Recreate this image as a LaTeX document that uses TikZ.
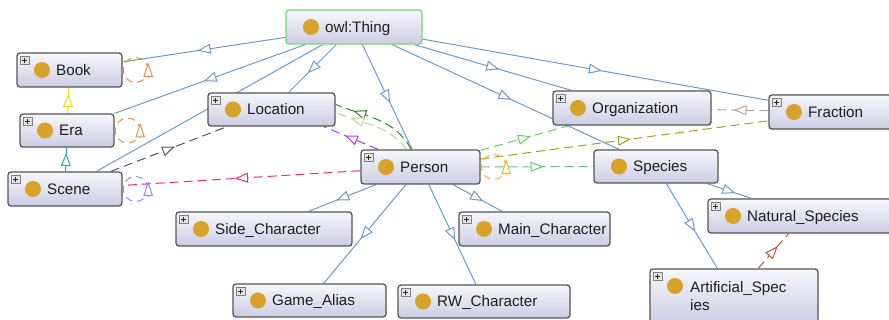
\documentclass[tikz,border=0pt]{standalone}
\usepackage{fontspec}
\setmainfont{Liberation Sans}
\usetikzlibrary{arrows.meta,decorations.markings}
\pgfdeclarelayer{edges}
\pgfsetlayers{edges,main}
\definecolor{edgeblue}{RGB}{108,155,200}
\definecolor{boxborder}{RGB}{85,85,85}
\definecolor{boxtop}{RGB}{247,247,252}
\definecolor{boxbot}{RGB}{204,204,228}
\definecolor{thinggreen}{RGB}{110,220,110}
\definecolor{dotgold}{RGB}{214,162,42}
\definecolor{txt}{RGB}{30,30,30}
\definecolor{yellowc}{RGB}{255,215,0}
\definecolor{tealc}{RGB}{30,178,170}
\definecolor{orangec}{RGB}{230,145,80}
\definecolor{orange2c}{RGB}{255,165,50}
\definecolor{lavc}{RGB}{140,140,255}
\definecolor{greyc}{RGB}{85,85,85}
\definecolor{pinkc}{RGB}{240,40,120}
\definecolor{purplec}{RGB}{170,60,230}
\definecolor{dgreenc}{RGB}{45,135,35}
\definecolor{tanc}{RGB}{205,205,150}
\definecolor{lgreenc}{RGB}{100,210,90}
\definecolor{olivec}{RGB}{160,160,30}
\definecolor{sgreenc}{RGB}{100,200,130}
\definecolor{lgreyc}{RGB}{170,170,170}
\definecolor{brownc}{RGB}{195,85,45}
\tikzset{
  cbox/.style={draw=boxborder, line width=1.3pt, rounded corners=3pt,
    top color=boxtop, bottom color=boxbot, inner sep=0pt},
  thingbox/.style={cbox, draw=thinggreen},
  plusbox/.style={draw=gray, fill=gray!20, minimum size=8.5pt, inner sep=0pt,
    line width=0.5pt,
    path picture={\draw[line width=0.9pt, black!85]
      ([xshift=-2.6pt]path picture bounding box.center) -- ([xshift=2.6pt]path picture bounding box.center)
      ([yshift=-2.6pt]path picture bounding box.center) -- ([yshift=2.6pt]path picture bounding box.center);}},
  cdot/.style={circle, fill=dotgold, minimum size=16pt, inner sep=0pt},
  lbl/.style={font=\fontsize{15.2}{18}\selectfont, text=txt, inner sep=0pt, anchor=base west},
  arrowat/.style={postaction={decorate}, decoration={markings,
    mark=at position #1 with {\arrow[xshift=6.5pt]{Triangle[length=13pt,width=10pt,fill=white]}}}},
  midarrow/.style={arrowat=0.5},
  subline/.style={draw=edgeblue, line width=1pt},
  sub/.style={subline, midarrow},
  dashline/.style={line width=1pt, dash pattern=on 9pt off 5pt},
  prop/.style={dashline, midarrow},
  selfloop/.style={line width=1pt, dash pattern=on 7pt off 5pt},
  looptip/.style={line width=1pt, -{Triangle[length=15pt,width=9.5pt,fill=white]}},
}
\newcommand\clsbox[7]{%
  \node[#7, minimum width={(#4-#2)*1pt}, minimum height={(#5-#3)*1pt}] (#1) at ({(#2+#4)/2},{(#3+#5)/2}) {};
  \node[cdot] (#1-dot) at ({#2+25},{(#3+#5)/2}) {};
  \node[lbl] (#1-txt) at ({#2+39},{(#3+#5)/2+5.5}) {#6};
}
\newcommand\clsplus[1]{\node[plusbox] (#1-plus) at ([xshift=8.5pt,yshift=-8pt]#1.north west) {};}
\newcommand\selfloopat[2]{%
  \draw[selfloop, #2] ([xshift=13pt]#1.east) circle[radius=12.5pt];
  \draw[looptip, #2] ([xshift=25.5pt,yshift=-7pt]#1.east) -- ([xshift=25.5pt,yshift=8pt]#1.east);
}
\begin{document}
\begin{tikzpicture}[x=1pt,y=-1pt]
\useasboundingbox (0,0) rectangle (889,320);
\clip (0,0) rectangle (889,320);
% classes
\clsbox{thing}{286}{10}{422}{44}{owl:Thing}{thingbox}
\clsbox{book}{17}{53}{122}{87}{Book}{cbox}\clsplus{book}
\clsbox{era}{20}{114}{114}{147}{Era}{cbox}\clsplus{era}
\clsbox{scene}{8}{172}{122}{206}{Scene}{cbox}\clsplus{scene}
\clsbox{location}{208}{93}{335}{126}{Location}{cbox}\clsplus{location}
\clsbox{person}{361}{150}{480}{184}{Person}{cbox}\clsplus{person}
\clsbox{org}{553}{91}{711}{125}{Organization}{cbox}\clsplus{org}
\clsbox{fraction}{769}{95}{900}{129}{Fraction}{cbox}\clsplus{fraction}
\clsbox{species}{594}{150}{718}{183}{Species}{cbox}
\clsbox{natural}{708}{199}{900}{233}{Natural\_Species}{cbox}\clsplus{natural}
\clsbox{side}{176}{212}{352}{246}{Side\_Character}{cbox}\clsplus{side}
\clsbox{main}{459}{212}{610}{246}{Main\_Character}{cbox}\clsplus{main}
\clsbox{game}{233}{284}{386}{317}{Game\_Alias}{cbox}\clsplus{game}
\clsbox{rw}{398}{285}{570}{318}{RW\_Character}{cbox}\clsplus{rw}
% Artificial_Species (two lines)
\node[cbox, minimum width=168pt, minimum height=54pt] (artificial) at (734,296) {};
\clsplus{artificial}
\node[cdot] (artificial-dot) at (675,286) {};
\node[lbl] (artificial-txt1) at (690,292.5) {Artificial\_Spec};
\node[lbl] (artificial-txt2) at (690,310.5) {ies};
% connectors
\begin{pgfonlayer}{edges}
\draw[sub] (thing) -- (book);
\draw[sub] (thing) -- (era);
\draw[subline] (thing) -- (scene);
\draw[sub] (thing) -- (location);
\draw[sub] (thing) -- (person);
\draw[sub] (thing) -- (org);
\draw[sub] (thing) -- (species);
\draw[sub] (thing) -- (fraction);
\draw[sub] (person) -- (side);
\draw[sub] (person) -- (game);
\draw[sub] (person) -- (rw);
\draw[sub] (person) -- (main);
\draw[sub] (species) -- (natural);
\draw[sub] (species) -- (artificial);
\draw[line width=1pt, draw=yellowc, midarrow] (era) -- (book);
\draw[line width=1pt, draw=tealc, midarrow] (scene) -- (era);
\draw[prop, draw=greyc] (scene) -- (location);
\draw[prop, draw=pinkc] (person) -- (scene);
\draw[prop, draw=purplec] (person) -- ([xshift=-12pt]location.south east);
\draw[dashline, arrowat=0.72, draw=dgreenc] (person) to[out=118, in=-22] ([yshift=5pt]location.east);
\draw[dashline, arrowat=0.72, draw=tanc] (person) to[out=128, in=-22] ([yshift=-3pt]location.east);
\draw[prop, draw=lgreenc] (person) -- (org);
\draw[prop, draw=olivec] (person) -- (fraction);
\draw[prop, draw=sgreenc] (person) -- (species);
\draw[prop, draw=lgreyc] (fraction) -- (org);
\draw[prop, draw=brownc] (artificial) -- (natural);
\end{pgfonlayer}
\selfloopat{book}{orangec}
\selfloopat{era}{orangec}
\selfloopat{scene}{lavc}
\selfloopat{person}{orange2c}
\end{tikzpicture}
\end{document}
